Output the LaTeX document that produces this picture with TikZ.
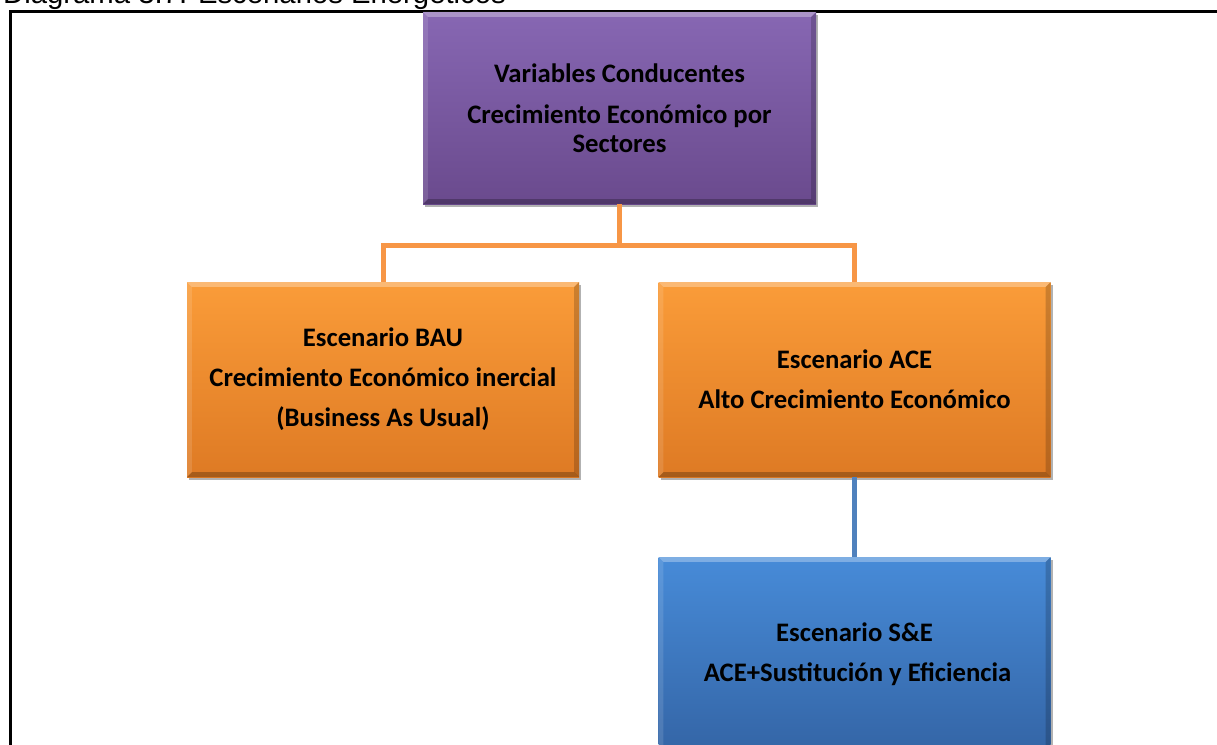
\documentclass[tikz,border=0pt]{standalone}
\usepackage{fontspec}
\setmainfont{Carlito}
\newfontfamily\titlefont{Liberation Sans}
\usetikzlibrary{calc,shadows}
\definecolor{purpT}{HTML}{8767B3}
\definecolor{purpB}{HTML}{6A4A8D}
\definecolor{oranT}{HTML}{FA9C39}
\definecolor{oranB}{HTML}{DE7A24}
\definecolor{bluT}{HTML}{478BD8}
\definecolor{bluB}{HTML}{3465A6}
\definecolor{conO}{HTML}{F79646}
\definecolor{conB}{HTML}{4F81BD}
\tikzset{
  box/.style={rectangle, inner sep=0pt, minimum width=392pt, minimum height=195pt,
    align=center, font=\fontsize{26.7}{29}\selectfont\bfseries, text=black,
    drop shadow={shadow xshift=2pt, shadow yshift=-3pt, opacity=0.3, fill=black}},
  purplebox/.style={box, top color=purpT, bottom color=purpB},
  orangebox/.style={box, top color=oranT, bottom color=oranB},
  bluebox/.style={box, top color=bluT, bottom color=bluB},
  orangeline/.style={draw=conO, line width=5pt},
  blueline/.style={draw=conB, line width=5pt},
  framestyle/.style={draw=black, line width=3pt},
  titlestyle/.style={anchor=base west, inner sep=0pt, font=\fontsize{29.3}{30}\selectfont\titlefont}
}
\newcommand\boxbevel[1]{%
  \fill[white,opacity=0.3] (#1.north west) -- (#1.north east) -- ($(#1.north east)+(-5,-5)$) -- ($(#1.north west)+(5,-5)$) -- cycle;
  \fill[white,opacity=0.12] (#1.north west) -- ($(#1.north west)+(5,-5)$) -- ($(#1.south west)+(5,5)$) -- (#1.south west) -- cycle;
  \fill[black,opacity=0.18] (#1.north east) -- (#1.south east) -- ($(#1.south east)+(-5,5)$) -- ($(#1.north east)+(-5,-5)$) -- cycle;
  \fill[black,opacity=0.25] (#1.south west) -- (#1.south east) -- ($(#1.south east)+(-5,5)$) -- ($(#1.south west)+(5,5)$) -- cycle;
}
\begin{document}
\begin{tikzpicture}[x=1pt,y=1pt]
\useasboundingbox (0,0) rectangle (1217,-744);
\fill[white] (0,0) rectangle (1217,-744);
% title and frame
\node[titlestyle] (title) at (3,-4) {Diagrama 3.7: Escenarios Energéticos};
\coordinate (fbl) at (10,-760);
\coordinate (ftl) at (10,-11);
\coordinate (ftr) at (1230,-11);
\draw[framestyle] (fbl) -- (ftl) -- (ftr);
% boxes
\node[purplebox, minimum width=393pt, minimum height=192pt] (top) at (619.5,-108)
  {Variables Conducentes\\[12pt]Crecimiento Económico por\\Sectores};
\node[orangebox] (bau) at (383,-379.5)
  {Escenario BAU\\[11pt]Crecimiento Económico inercial\\[11pt](Business As Usual)};
\node[orangebox] (ace) at (854.5,-379.5)
  {Escenario ACE\\[11pt]Alto Crecimiento Económico};
\node[bluebox] (se) at (854.5,-654.5)
  {Escenario S\&E\\[11pt]\ ACE+Sustitución y Eficiencia};
\boxbevel{top}
\boxbevel{bau}
\boxbevel{ace}
\boxbevel{se}
% connectors
\draw[orangeline] (top.south) -- ++(0,-41) -| (bau.north);
\draw[orangeline] (top.south) -- ++(0,-41) -| (ace.north);
\draw[blueline] (ace.south) -- (se.north);
\end{tikzpicture}
\end{document}
